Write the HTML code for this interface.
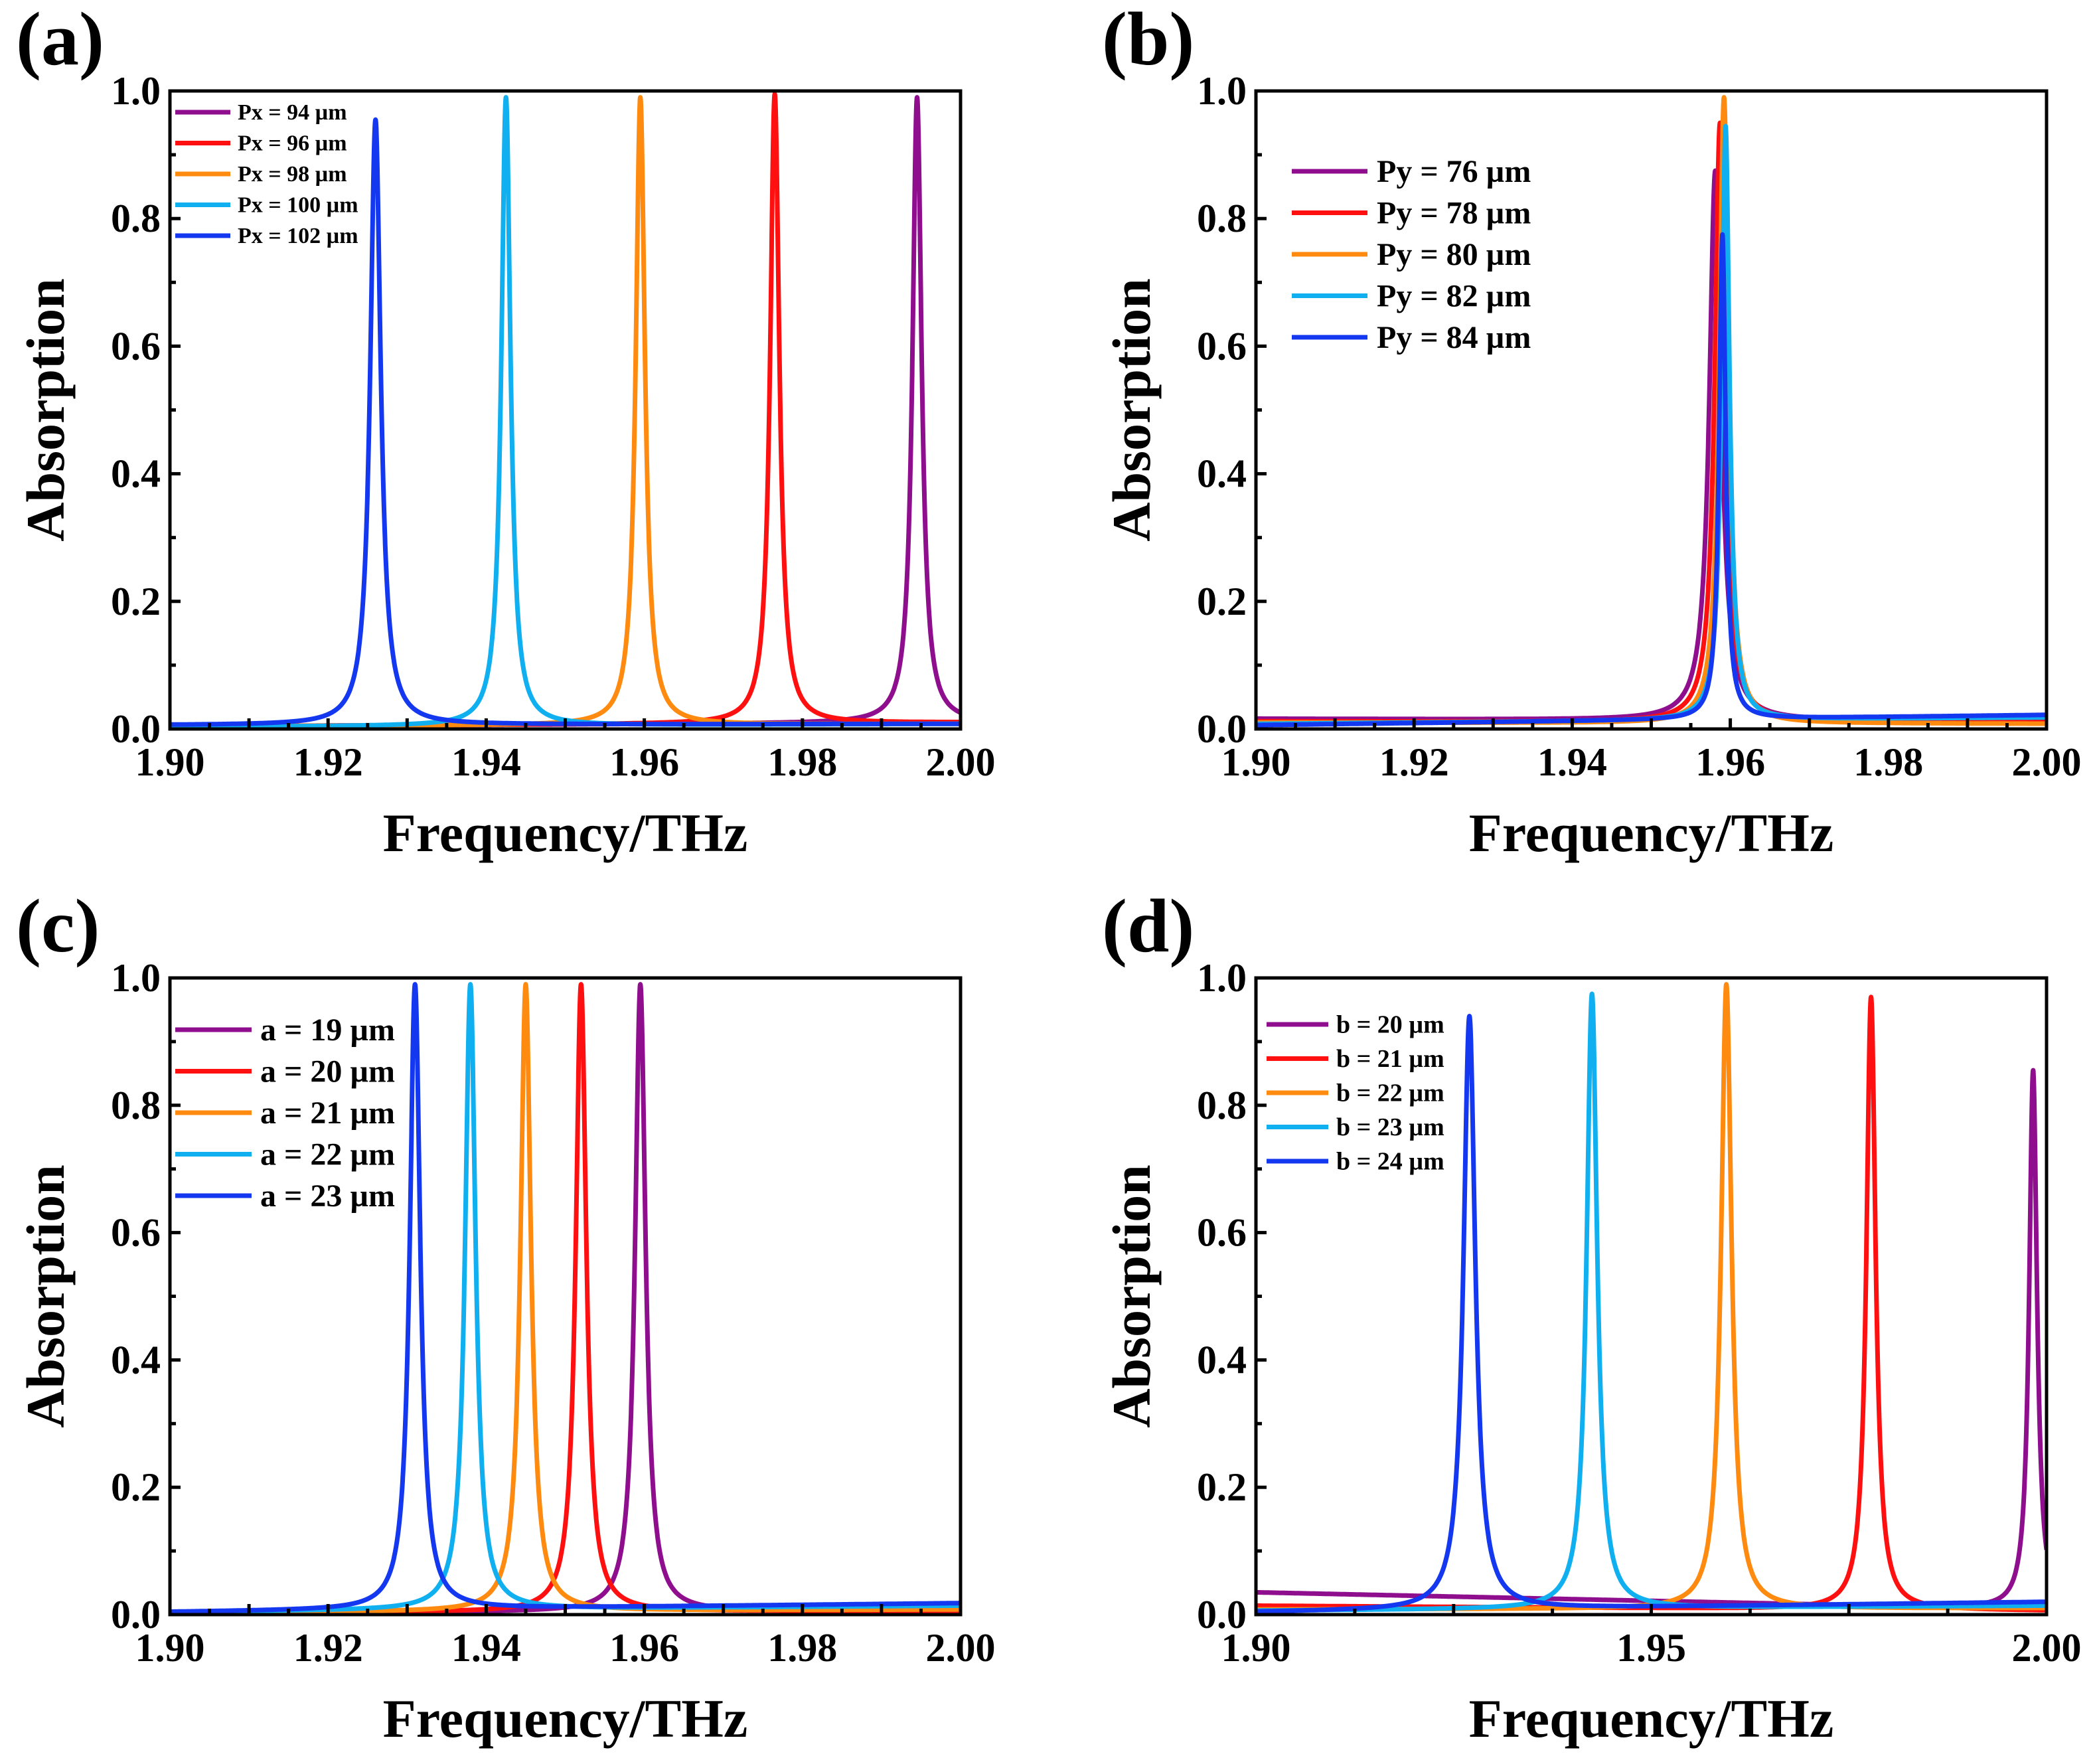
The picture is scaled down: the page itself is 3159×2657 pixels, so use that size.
<!DOCTYPE html>
<html><head><meta charset="utf-8"><style>
html,body{margin:0;padding:0;background:#fff}
svg{display:block}
text{font-family:"Liberation Serif",serif;font-weight:bold;fill:#000}
</style></head><body>
<svg id="fig" width="3159" height="2657" viewBox="0 0 3159 2657" xmlns="http://www.w3.org/2000/svg"></svg>
<script>
// Peak data per panel (center THz, peak height, half width, baseline left, baseline right)
const colors = ["#8E0E8E","#FF1010","#FF8A10","#10B0F0","#1438F0"];
const aLabels = ["Px = 94 \u00b5m","Px = 96 \u00b5m","Px = 98 \u00b5m","Px = 100 \u00b5m","Px = 102 \u00b5m"];
const aCenters = [1.9945,1.9765,1.9595,1.9425,1.9260];
const aHeights = [0.99,0.995,0.99,0.99,0.955];
const aWidths = [0.0007,0.0007,0.0007,0.0007,0.0008];
const aBaseL = [0.004,0.004,0.004,0.003,0.006];
const aBaseR = [0.010,0.010,0.008,0.008,0.008];
const bLabels = ["Py = 76 \u00b5m","Py = 78 \u00b5m","Py = 80 \u00b5m","Py = 82 \u00b5m","Py = 84 \u00b5m"];
const bCenters = [1.9581,1.9587,1.9592,1.9594,1.9590];
const bHeights = [0.875,0.95,0.99,0.945,0.775];
const bWidths = [0.0009,0.0008,0.0007,0.0006,0.0005];
const bBaseL = [0.016,0.012,0.010,0.008,0.006];
const bBaseR = [0.012,0.010,0.008,0.018,0.022];
const cLabels = ["a = 19 \u00b5m","a = 20 \u00b5m","a = 21 \u00b5m","a = 22 \u00b5m","a = 23 \u00b5m"];
const cCenters = [1.9595,1.9520,1.9450,1.9380,1.9310];
const cHeights = [0.99,0.99,0.99,0.99,0.99];
const cWidths = [0.0008,0.0008,0.0008,0.0008,0.0008];
const cBaseL = [0.003,0.003,0.003,0.004,0.004];
const cBaseR = [0.006,0.006,0.008,0.014,0.018];
const dLabels = ["b = 20 \u00b5m","b = 21 \u00b5m","b = 22 \u00b5m","b = 23 \u00b5m","b = 24 \u00b5m"];
const dCenters = [1.9983,1.9778,1.9595,1.9425,1.9270];
const dHeights = [0.855,0.97,0.99,0.975,0.94];
const dWidths = [0.0006,0.0007,0.0008,0.0008,0.0009];
const dBaseL = [0.035,0.014,0.008,0.006,0.004];
const dBaseR = [0.008,0.006,0.010,0.014,0.020];
const xTicksA = ["1.90","1.92","1.94","1.96","1.98","2.00"];
const xTicksD = ["1.90","1.95","2.00"];
const yTicks = ["0.0","0.2","0.4","0.6","0.8","1.0"];

const NS="http://www.w3.org/2000/svg";
const svg=document.getElementById('fig');
function mk(tag,attrs,parent){const e=document.createElementNS(NS,tag);for(const k in attrs)e.setAttribute(k,attrs[k]);(parent||svg).appendChild(e);return e;}

const panels=[
 {id:'a',L:256,R:1447,T:137,B:1098,labels:aLabels,c:aCenters,h:aHeights,w:aWidths,bl:aBaseL,br:aBaseR,xt:xTicksA,xminor:0.01,leg:{x1:264,x2:347,tx:358,y0:169,dy:46.5,fs:34}},
 {id:'b',L:1892,R:3083,T:137,B:1098,labels:bLabels,c:bCenters,h:bHeights,w:bWidths,bl:bBaseL,br:bBaseR,xt:xTicksA,xminor:0.01,leg:{x1:1946,x2:2060,tx:2074,y0:258,dy:62.5,fs:48}},
 {id:'c',L:256,R:1447,T:1473,B:2432,labels:cLabels,c:cCenters,h:cHeights,w:cWidths,bl:cBaseL,br:cBaseR,xt:xTicksA,xminor:0.01,leg:{x1:264,x2:379,tx:392,y0:1551,dy:62.5,fs:48}},
 {id:'d',L:1892,R:3083,T:1473,B:2432,labels:dLabels,c:dCenters,h:dHeights,w:dWidths,bl:dBaseL,br:dBaseR,xt:xTicksD,xminor:0.025,leg:{x1:1908,x2:2001,tx:2013,y0:1543,dy:51.5,fs:38}}
];

panels.forEach(p=>{
  const g=mk('g',{});
  
  
  const xs=v=>p.L+(v-1.90)/0.10*(p.R-p.L);
  const ys=v=>p.B-v*(p.B-p.T);
  const clip=mk('clipPath',{id:'clip'+p.id},g);
  mk('rect',{x:p.L,y:p.T,width:p.R-p.L,height:p.B-p.T},clip);
  const sg=mk('g',{'clip-path':'url(#clip'+p.id+')'},g);
  for(let i=0;i<5;i++){
    let d='';
    for(let k=0;k<=4000;k++){
      const x=1.90+k*0.000025;
      const base=p.bl[i]+(p.br[i]-p.bl[i])*(x-1.90)/0.10;
      const w=p.w[i];
      const y=base+(p.h[i]-base)*w*w/((x-p.c[i])**2+w*w);
      d+=(k?'L':'M')+xs(x).toFixed(1)+' '+ys(y).toFixed(1);
    }
    const path=mk('path',{d:d,fill:'none',stroke:colors[i],'stroke-width':7,'stroke-linejoin':'round'},sg);
    
    
  }
  const fr=mk('rect',{x:p.L,y:p.T,width:p.R-p.L,height:p.B-p.T,fill:'none',stroke:'#000','stroke-width':5},g);
  
  
  const x0=1.90;
  for(let v=x0;v<=2.0001;v+=p.xminor/2){
    const major=Math.abs(((v-x0)/p.xminor)-Math.round((v-x0)/p.xminor))<1e-6;
    const len=major?16:9;
    mk('line',{x1:xs(v),x2:xs(v),y1:p.B,y2:p.B-len,stroke:'#000','stroke-width':5},g);
  }
  p.xt.forEach(t=>{
    const tx=mk('text',{x:xs(parseFloat(t)),y:p.B+70,'text-anchor':'middle','font-size':60},g);
    tx.textContent=t;
    
    
  });
  for(let k=0;k<=10;k++){
    const v=k*0.1,len=k%2?9:16;
    mk('line',{x1:p.L,x2:p.L+len,y1:ys(v),y2:ys(v),stroke:'#000','stroke-width':5},g);
  }
  yTicks.forEach(t=>{
    const tx=mk('text',{x:p.L-14,y:ys(parseFloat(t))+20,'text-anchor':'end','font-size':60},g);
    tx.textContent=t;
    
    
  });
  const xt=mk('text',{x:(p.L+p.R)/2,y:p.B+184,'text-anchor':'middle','font-size':82},g);
  xt.textContent='Frequency/THz';
  
  
  const cy=(p.T+p.B)/2, cx=p.L-188;
  const yt=mk('text',{x:cx,y:cy,'text-anchor':'middle','font-size':82,transform:'rotate(-90 '+cx+' '+cy+')'},g);
  yt.setAttribute('dy','28');
  yt.textContent='Absorption';
  
  
  const pl=mk('text',{x:p.L-232,y:p.T-40,'font-size':114},g);
  pl.textContent='('+p.id+')';
  
  
  const lg=p.leg;
  for(let i=0;i<5;i++){
    const y=lg.y0+i*lg.dy;
    const e=mk('g',{},g);
    
    
    mk('line',{x1:lg.x1,x2:lg.x2,y1:y,y2:y,stroke:colors[i],'stroke-width':7},e);
    const t=mk('text',{x:lg.tx,y:y+lg.fs*0.33,'font-size':lg.fs},e);
    t.textContent=p.labels[i];
  }
});
</script>
</body></html>
